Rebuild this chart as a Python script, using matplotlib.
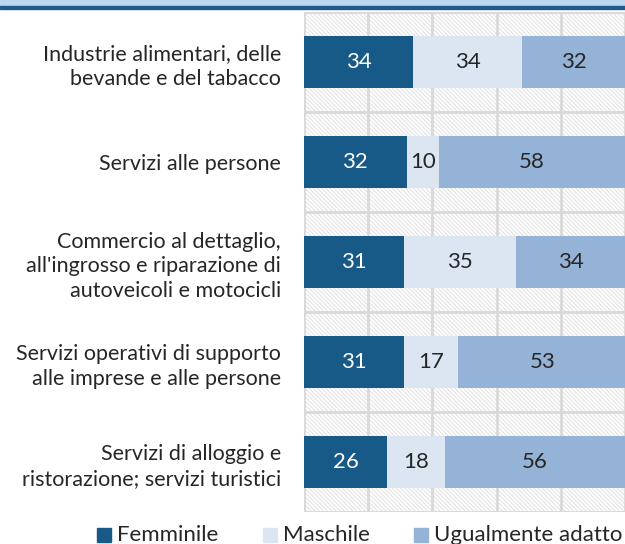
import matplotlib
matplotlib.use("Agg")
import matplotlib.pyplot as plt
from matplotlib.patches import Rectangle
import numpy as np

plt.rcParams["font.family"] = ["Lato", "DejaVu Sans"]

categorie = [
    "Industrie alimentari, delle\nbevande e del tabacco",
    "Servizi alle persone",
    "Commercio al dettaglio,\nall'ingrosso e riparazione di\nautoveicoli e motocicli",
    "Servizi operativi di supporto\nalle imprese e alle persone",
    "Servizi di alloggio e\nristorazione; servizi turistici",
]
femminile = [34, 32, 31, 31, 26]
maschile = [34, 10, 35, 17, 18]
ugualmente = [32, 58, 34, 53, 56]
serie_nomi = ["Femminile", "Maschile", "Ugualmente adatto"]

colori = ["#175A87", "#DCE6F2", "#95B3D7"]
col_testo = ["white", "#262626", "#262626"]
grigio = "#D9D9D9"
W, H = 625, 544

fig = plt.figure(figsize=(W / 100, H / 100), dpi=100)
ax = fig.add_axes([304 / W, 32 / H, 1 - 304 / W, 500 / H])

# fascia decorativa in alto
fig.patches.append(Rectangle((0, 1 - 6 / H), 1, 6 / H, transform=fig.transFigure,
                             color="#BDD7EE", zorder=0))
fig.patches.append(Rectangle((0, 1 - 8.5 / H), 1, 3 / H, transform=fig.transFigure,
                             color="#1F5C8B", zorder=1))

n = len(categorie)
y = np.arange(n)

# sfondo tratteggiato
plt.rcParams["hatch.color"] = "#E3E3E3"
plt.rcParams["hatch.linewidth"] = 0.8
ax.add_patch(Rectangle((0, -0.5), 100, n, facecolor="white", edgecolor="#E3E3E3",
                       hatch="\\" * 8, lw=0, zorder=0))

for xv in range(0, 101, 20):
    ax.axvline(xv, color=grigio, lw=2, zorder=1)
for yv in np.arange(-0.5, n, 1):
    ax.axhline(yv, color=grigio, lw=2, zorder=1)

left = np.zeros(n)
for vals, c, tc in zip([femminile, maschile, ugualmente], colori, col_testo):
    ax.barh(y, vals, left=left, height=0.52, color=c, zorder=2)
    for yi, (l, v) in enumerate(zip(left, vals)):
        ax.text(l + v / 2, yi, str(v), ha="center", va="center", color=tc,
                fontsize=16, zorder=3)
    left += np.array(vals)

ax.set_xlim(0, 100)
ax.set_ylim(n - 0.5, -0.5)
ax.set_yticks(y)
ax.set_yticklabels(categorie, fontsize=15.5, color="#262626", ha="right",
                   multialignment="right", linespacing=1.3)
ax.tick_params(axis="y", length=0, pad=16.5)
ax.set_xticks([])
for s in ax.spines.values():
    s.set_visible(False)

# legenda disegnata a mano
leg_x = [97, 263, 414]
for xq, c, nome in zip(leg_x, colori, serie_nomi):
    fig.patches.append(Rectangle((xq / W, (H - 542) / H), 14 / W, 14 / H,
                                 transform=fig.transFigure, color=c))
    fig.text((xq + 20) / W, (H - 535) / H, nome, fontsize=16, color="#262626",
             ha="left", va="center")

fig.savefig("out.png", dpi=100)
